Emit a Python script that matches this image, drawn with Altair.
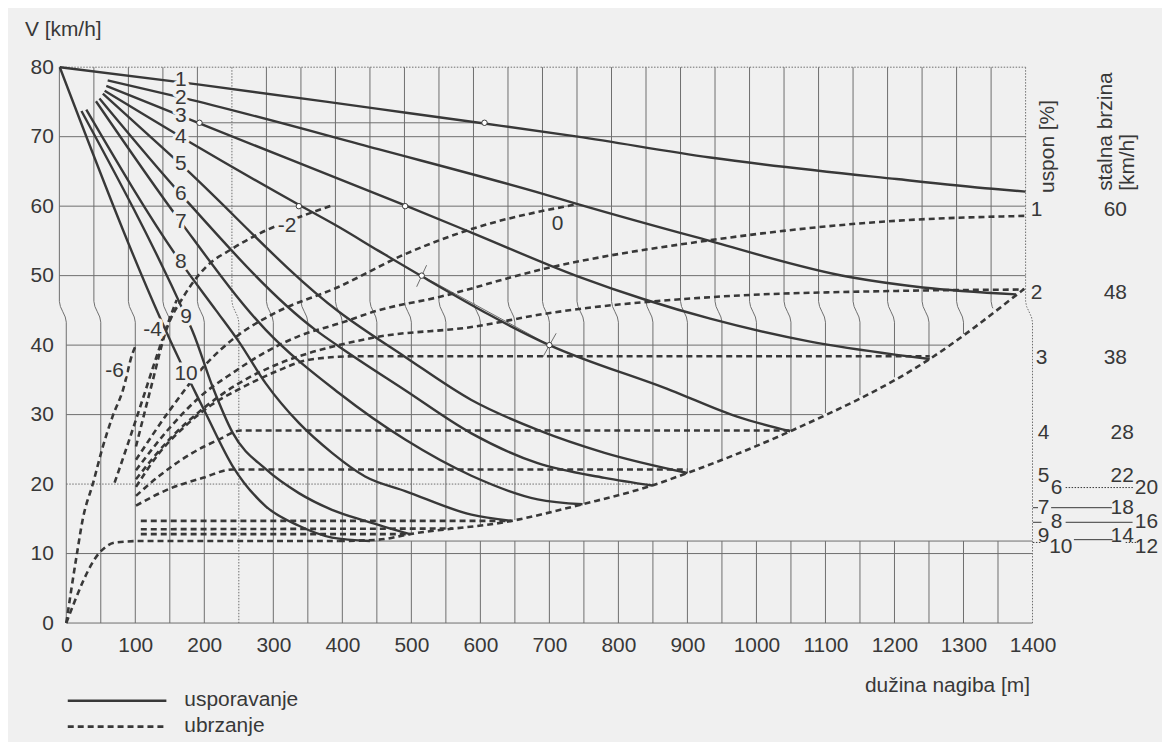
import altair as alt
import numpy as np
import pandas as pd

BG = "#f0f0f0"
INK = "#383838"
GRID = "#6e6e6e"
FONT = "Liberation Sans"

# ---------------- data ----------------
x_ticks = list(range(0, 1401, 100))
y_ticks = list(range(0, 81, 10))
grid_x = list(range(0, 1401, 50))

# usporavanje (deceleration) on grade 1..10 %  -> (m, km/h)
dec1 = [(-9.4, 80), (193, 77.5), (452, 74.0), (606, 71.9), (741, 70.0), (933, 67.0), (1203, 63.9), (1342, 62.5), (1390, 62.1)]
dec2 = [(60, 78.1), (181, 75.3), (452, 68.2), (693, 61.7), (741, 60.3), (914, 55.5), (1135, 49.8), (1241, 48.3), (1376, 47.3)]
dec3 = [(58, 77.3), (193, 71.9), (491, 60.1), (587, 56.2), (741, 49.9), (837, 46.6), (933, 43.8), (1078, 40.5), (1203, 38.6), (1251, 38.0)]
dec4 = [(55.6, 76.6), (181, 69.1), (337, 60.2), (395, 57.0), (452, 53.6), (515, 49.9), (700, 40.0), (876, 33.5), (972, 29.7), (1049, 27.6)]
dec5 = [(53, 76.2), (166, 66.0), (395, 44.8), (491, 38.3), (587, 32.1), (683, 27.8), (780, 24.5), (900, 21.6)]
dec6 = [(48, 75.5), (166, 61.7), (361, 42.2), (395, 39.8), (491, 33.5), (587, 27.3), (683, 23.0), (780, 20.9), (849, 19.8)]
dec7 = [(43, 75.1), (166, 57.7), (289, 42.2), (395, 33.1), (491, 26.4), (587, 21.2), (683, 17.8), (748, 17.1)]
dec8 = [(29, 73.9), (166, 51.9), (217, 45.0), (250, 40.5), (289, 34.5), (337, 28.8), (385, 24.5), (433, 21.1), (491, 19.0), (587, 15.6), (645, 14.7)]
dec9 = [(22, 73.7), (173.5, 44.1), (183, 42.0), (212, 34.0), (241, 27.4), (289.6, 22.1), (337, 18.7), (385, 16.3), (433, 14.7), (498, 12.8)]
dec10 = [(-9.4, 80), (173.5, 35.9), (183, 34.0), (202, 30.2), (241, 22.6), (289, 16.8), (337, 14.0), (385, 12.3), (440, 11.8)]

# ubrzanje (acceleration)
acc_m6 = [(0, 0), (15, 9.7), (24, 15), (39, 20.2), (53, 25.4), (67, 29.7), (82, 33.5), (96, 38.8), (101, 40)]
acc_m4 = [(70, 20.2), (90, 26), (110, 32), (128, 37.5), (145, 42.5), (160, 46.5)]
acc_m2 = [(101, 25.4), (123, 34), (145, 42.2), (170, 47), (202, 51.2), (241, 53.9), (289, 56.5), (337, 58.4), (385, 60.1)]
acc_0 = [(101, 23.5), (149, 30.5), (200, 37), (250, 41.5), (300, 44.5), (395, 48.4), (491, 53.1), (587, 56.7), (741, 60.3)]
acc_g1 = [(101, 22), (149, 28), (193, 32.5), (241, 36), (289, 39), (337, 41.3), (395, 43.1), (452, 45.0), (539, 46.9), (693, 51.0), (933, 55.1), (1203, 57.9), (1390, 58.6)]
acc_g2 = [(101, 20.7), (150, 26.5), (200, 31), (250, 34.5), (300, 37), (350, 38.8), (395, 40.0), (452, 41.2), (587, 42.6), (693, 44.5), (933, 46.9), (1203, 47.8), (1388, 48.0)]
acc_g3 = [(101, 19.6), (135, 24.5), (174, 28.5), (212, 31.5), (253, 33.8), (304, 36.2), (352, 37.9), (420, 38.4), (1251, 38.4)]
acc_g4 = [(101, 18.3), (135, 21.2), (183, 24.5), (221, 26.4), (253, 27.7), (1049, 27.7)]
acc_g5 = [(101, 16.9), (149, 19.3), (198, 20.9), (241, 22.1), (900, 22.1)]
acc_h15 = [(108, 14.7), (645, 14.7)]
acc_h135 = [(108, 13.5), (560, 13.6)]
acc_h128 = [(108, 12.8), (498, 12.8)]
acc_orig = [(0, 0), (48, 10.1), (72, 11.6), (108, 11.8), (395, 11.8)]
envelope = [(395, 11.8), (453, 12.0), (498, 12.8), (645, 14.7), (748, 17.1), (849, 19.8), (900, 21.6), (1049, 27.6), (1251, 38.0), (1388, 48.1)]

# construction points and thin construction strokes
marker_x = [193, 606, 337, 491, 515, 700]
marker_v = [72, 72, 60, 60, 50, 40]
constr_lines = [
    [(507.7, 48.4), (522.1, 51.5)],
    [(690.6, 38.3), (709.8, 41.7)],
    [(515, 50.0), (700, 40.0)],
]

# curve labels
lab_text = ["1", "2", "3", "4", "5", "6", "7", "8", "9", "10", "-2", "0", "-4", "-6"]
lab_x = [166, 166, 166, 166, 166, 166, 166, 166, 173.5, 173.5, 320, 712, 125, 70]
lab_v = [78.1, 75.6, 73.0, 69.9, 66.0, 61.7, 57.7, 51.9, 44.1, 35.9, 57.2, 57.4, 42.2, 36.3]

# right-hand table: uspon [%] and stalna brzina [km/h]
grade_text = ["1", "2", "3", "4", "5", "6", "7", "8", "9", "10"]
grade_x = [1406, 1406, 1413, 1416, 1416, 1435, 1416, 1435, 1416, 1441]
speed_text = ["60", "48", "38", "28", "22", "20", "18", "16", "14", "12"]
speed_x = [1520, 1520, 1520, 1530, 1530, 1565, 1530, 1565, 1530, 1565]
row_v = [59.4, 47.5, 38.1, 27.4, 21.1, 19.5, 16.6, 14.5, 12.5, 10.9]

legend_text = ["usporavanje", "ubrzanje"]

# ---------------- build tables ----------------
def rows(name, pts):
    return [{"name": name, "x": p[0], "v": p[1], "i": k} for k, p in enumerate(pts)]

dec_list = [dec1, dec2, dec3, dec4, dec5, dec6, dec7, dec8, dec9, dec10]
acc_list = [acc_m6, acc_m4, acc_m2, acc_0, acc_g1, acc_g2, acc_g3, acc_g4, acc_g5,
            acc_h15, acc_h135, acc_h128, acc_orig, envelope]
dec_rows, acc_rows = [], []
for k, c in enumerate(dec_list):
    dec_rows += rows(f"d{k}", c)
for k, c in enumerate(acc_list):
    acc_rows += rows(f"a{k}", c)
dec_df = pd.DataFrame(dec_rows)
acc_df = pd.DataFrame(acc_rows)

env_x = [p[0] for p in envelope]
env_v = [p[1] for p in envelope]

# grid (with the scan's jog between the upper and lower sheet)
SHIFT, JT, JB = -10.0, 46.3, 43.3
jog = [(0.0, 1.0), (0.25, 0.85), (0.5, 0.5), (0.75, 0.15), (1.0, 0.0)]

def cut(pts, floor_v):
    out = [pts[0]]
    for a, b in zip(pts[:-1], pts[1:]):
        if b[1] >= floor_v:
            out.append(b)
        else:
            t = (a[1] - floor_v) / (a[1] - b[1])
            out.append((a[0] + t * (b[0] - a[0]), floor_v))
            break
    return out

grid_rows = []
gid = 0
def add_line(pts, style):
    global gid
    for k, p in enumerate(pts):
        grid_rows.append({"gid": gid, "x": p[0], "v": p[1], "i": k, "style": style})
    gid += 1

for gx in grid_x:
    pts = [(gx + SHIFT, 80)] + [(gx + SHIFT * f, JT - t * (JT - JB)) for t, f in jog] + [(gx, 0)]
    style = "dot" if gx in (250, 1400) else "solid"
    if 450 < gx < 1400:
        add_line(cut(pts, float(np.interp(gx, env_x, env_v))), style)
        add_line([(gx, 0), (gx, 11.8)], style)
    else:
        add_line(pts, style)

inv = lambda v: float(np.interp(v, env_v, env_x))
for v, x0, x1, st in [(0, 0, 1400, "solid"), (10, 0, 1400, "solid"), (11.8, 440, 1400, "solid"),
                      (20, 0, inv(20), "dot"), (30, 0, inv(30), "solid"), (40, 0, inv(40), "solid"),
                      (72, 193, 606, "solid")]:
    add_line([(x0, v), (x1, v)], st)
for v, st in [(50, "solid"), (60, "solid"), (70, "solid"), (80, "dot")]:
    add_line([(SHIFT, v), (1400 + SHIFT, v)], st)
for seg in constr_lines:
    add_line(seg, "solid")
grid_df = pd.DataFrame(grid_rows)

lab_df = pd.DataFrame({"t": lab_text, "x": lab_x, "v": lab_v})
mark_df = pd.DataFrame({"x": marker_x, "v": marker_v})
tab_df = pd.DataFrame({"t": grade_text + speed_text, "x": grade_x + speed_x, "v": row_v + row_v})
rot_df = pd.DataFrame({"t": ["uspon [%]", "stalna brzina", "[km/h]"], "x": [1422, 1506, 1538], "v": [61.9, 62.2, 62.2]})
tick_df = pd.DataFrame({
    "x": [1427, 1448, 1460, 1400.6, 1400.6, 1448, 1400.6, 1535],
    "x2": [1515, 1545, 1516, 1408, 1413, 1546, 1412, 1553],
    "v": [16.6, 14.5, 12.0, 16.6, 14.5, 19.5, 11.6, 11.6],
    "s": ["solid", "solid", "solid", "solid", "solid", "dot", "dot", "dot"],
})
one_df = pd.DataFrame({"k": [0]})

# ---------------- chart ----------------
xs = alt.Scale(domain=[0, 1400], nice=False, zero=False)
ys = alt.Scale(domain=[0, 80], nice=False, zero=False)
ax_x = alt.Axis(values=x_ticks, format="d", title="dužina nagiba [m]", labelFont=FONT, labelFontSize=21,
                labelColor=INK, labelPadding=12, labelFlush=False, labelOverlap=False,
                domain=False, ticks=False, grid=False, titleFont=FONT, titleFontSize=21,
                titleFontWeight="normal", titleColor=INK, titleX=967, titleY=69,
                titleAlign="right", titleBaseline="alphabetic")
ax_y = alt.Axis(values=y_ticks, format="d", title="V [km/h]", labelFont=FONT, labelFontSize=21,
                labelColor=INK, labelPadding=13, labelOverlap=False, domain=False, ticks=False,
                grid=False, titleFont=FONT, titleFontSize=21, titleFontWeight="normal",
                titleColor=INK, titleAngle=0, titleX=-42, titleY=-32, titleAlign="left",
                titleBaseline="alphabetic")
X = alt.X("x:Q", scale=xs, axis=ax_x)
Y = alt.Y("v:Q", scale=ys, axis=ax_y)

grid_solid = alt.Chart(grid_df[grid_df["style"] == "solid"]).mark_line(
    color=GRID, strokeWidth=1).encode(X, Y, detail="gid:N", order="i:Q")
grid_dot = alt.Chart(grid_df[grid_df["style"] == "dot"]).mark_line(
    color=GRID, strokeWidth=1, strokeDash=[1.5, 1.5]).encode(X, Y, detail="gid:N", order="i:Q")
acc = alt.Chart(acc_df).mark_line(color=INK, strokeWidth=2.6, strokeDash=[6, 4],
                                  interpolate="monotone").encode(X, Y, detail="name:N", order="i:Q")
dec = alt.Chart(dec_df).mark_line(color=INK, strokeWidth=2.4,
                                  interpolate="monotone").encode(X, Y, detail="name:N", order="i:Q")
marks = alt.Chart(mark_df).mark_circle(color="white", stroke=INK, strokeWidth=1, size=30,
                                        opacity=1).encode(X, Y)
halo = alt.Chart(lab_df).mark_text(font=FONT, fontSize=21, color=BG, stroke=BG, strokeWidth=7,
                                   strokeJoin="round").encode(X, Y, text="t:N")
labels = alt.Chart(lab_df).mark_text(font=FONT, fontSize=21, color=INK).encode(X, Y, text="t:N")
table = alt.Chart(tab_df).mark_text(font=FONT, fontSize=21, color=INK).encode(X, Y, text="t:N")
rot = alt.Chart(rot_df).mark_text(font=FONT, fontSize=21, color=INK, angle=270, align="left",
                                  baseline="middle").encode(X, Y, text="t:N")
ticks_solid = alt.Chart(tick_df[tick_df["s"] == "solid"]).mark_rule(color=INK, strokeWidth=1).encode(
    X, x2="x2:Q", y=Y)
ticks_dot = alt.Chart(tick_df[tick_df["s"] == "dot"]).mark_rule(color=INK, strokeWidth=1,
                                                                strokeDash=[1.5, 1.5]).encode(X, x2="x2:Q", y=Y)

leg_solid = alt.Chart(one_df).mark_rule(color=INK, strokeWidth=2.4).encode(
    x=alt.value(1.5), x2=alt.value(100.5), y=alt.value(636))
leg_dash = alt.Chart(one_df).mark_rule(color=INK, strokeWidth=2.6, strokeDash=[6, 4]).encode(
    x=alt.value(1.5), x2=alt.value(100.5), y=alt.value(662))
leg_t1 = alt.Chart(one_df).mark_text(font=FONT, fontSize=21, color=INK, align="left",
                                     baseline="middle").encode(
    x=alt.value(118.5), y=alt.value(635), text=alt.value(legend_text[0]))
leg_t2 = alt.Chart(one_df).mark_text(font=FONT, fontSize=21, color=INK, align="left",
                                     baseline="middle").encode(
    x=alt.value(118.5), y=alt.value(661), text=alt.value(legend_text[1]))

chart = alt.layer(
    grid_solid, grid_dot, acc, dec, marks, halo, labels, table, rot, ticks_solid, ticks_dot,
    leg_solid, leg_dash, leg_t1, leg_t2,
).properties(
    width=970, height=558,
    autosize=alt.AutoSizeParams(type="none"),
    padding={"left": 58.5, "top": 58, "right": 130, "bottom": 118},
    background=BG,
).configure_view(stroke=None)

chart.save("out.html", embed_options={"renderer": "svg", "actions": False})
